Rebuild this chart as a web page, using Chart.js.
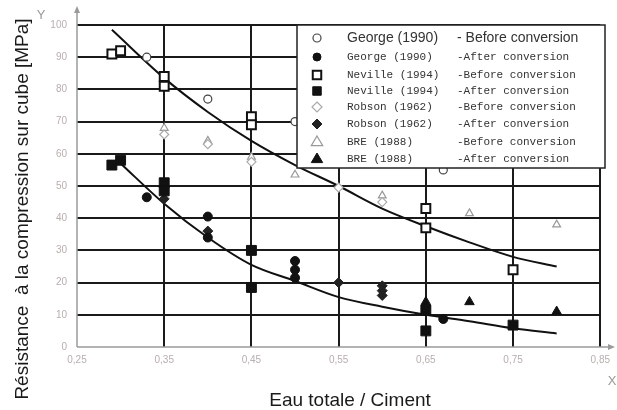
<!DOCTYPE html>
<html>
<head>
<meta charset="utf-8">
<script src="https://cdn.jsdelivr.net/npm/chart.js@4.4.1/dist/chart.umd.min.js"></script>
<style>
html,body{margin:0;padding:0;background:#fff;}
#wrap{position:relative;width:617px;height:410px;}
</style>
</head>
<body>
<div id="wrap"><canvas id="c" width="617" height="410"></canvas></div>
<script>
// ---- data ----
const xTicks = [0.25, 0.35, 0.45, 0.55, 0.65, 0.75, 0.85];
const yTicks = [0, 10, 20, 30, 40, 50, 60, 70, 80, 90, 100];

const georgeBeforeX = [0.33, 0.40, 0.50, 0.67];
const georgeBeforeY = [90, 77, 70, 55];
const georgeAfterX = [0.33, 0.40, 0.40, 0.50, 0.50, 0.50, 0.65, 0.67];
const georgeAfterY = [46.5, 40.5, 34, 26.7, 24, 21.5, 12, 8.7];
const nevilleBeforeX = [0.29, 0.30, 0.35, 0.35, 0.45, 0.45, 0.65, 0.65, 0.75];
const nevilleBeforeY = [91, 92, 84, 81, 71.5, 69, 43, 37, 24];
const nevilleAfterX = [0.29, 0.30, 0.35, 0.35, 0.45, 0.45, 0.65, 0.65, 0.75];
const nevilleAfterY = [56.5, 58, 51, 48.5, 30, 18.5, 11.5, 5, 6.8];
const robsonBeforeX = [0.35, 0.40, 0.45, 0.55, 0.60];
const robsonBeforeY = [66, 63, 57.5, 49.5, 45];
const robsonAfterX = [0.35, 0.40, 0.55, 0.60, 0.60, 0.60];
const robsonAfterY = [46, 36, 20, 19, 17.5, 16];
const breBeforeX = [0.35, 0.40, 0.45, 0.50, 0.60, 0.70, 0.80];
const breBeforeY = [68, 64, 59, 53.5, 47, 41.5, 38];
const breAfterX = [0.65, 0.70, 0.80];
const breAfterY = [14, 14, 11];

const upperCurveX = [0.29, 0.35, 0.40, 0.45, 0.50, 0.55, 0.60, 0.65, 0.70, 0.75, 0.80];
const upperCurveY = [98.5, 83.5, 73, 64, 56.5, 50, 43, 37.5, 32.5, 28, 25];
const lowerCurveX = [0.30, 0.35, 0.40, 0.45, 0.50, 0.55, 0.60, 0.65, 0.70, 0.75, 0.80];
const lowerCurveY = [57, 44.5, 34, 25.5, 20.5, 15.5, 12.5, 10, 8, 5.8, 4.2];

const legendNames = ['George (1990)', 'George (1990)', 'Neville (1994)', 'Neville (1994)',
  'Robson (1962)', 'Robson (1962)', 'BRE (1988)', 'BRE (1988)'];
const legendDescs = ['- Before conversion', '-After conversion', '-Before conversion', '-After conversion',
  '-Before conversion', '-After conversion', '-Before conversion', '-After conversion'];

const xTitle = 'Eau totale / Ciment';
const yTitle = 'Résistance  à la compression sur cube [MPa]';

// ---- build ----
const pts = (xs, ys) => xs.map((x, i) => ({x: x, y: ys[i]}));

const markerStyles = [
  {pointStyle: 'circle', radius: 4, bg: '#fff', border: '#444', bw: 1.2},
  {pointStyle: 'circle', radius: 4.5, bg: '#111', border: '#111', bw: 1},
  {pointStyle: 'rect', radius: 6.3, bg: '#fff', border: '#111', bw: 2},
  {pointStyle: 'rect', radius: 7, bg: '#111', border: '#111', bw: 1},
  {pointStyle: 'rectRot', radius: 4.5, bg: '#fff', border: '#aaa', bw: 1.2},
  {pointStyle: 'rectRot', radius: 5, bg: '#222', border: '#222', bw: 1},
  {pointStyle: 'triangle', radius: 4.5, bg: '#fff', border: '#999', bw: 1.2},
  {pointStyle: 'triangle', radius: 5.5, bg: '#111', border: '#111', bw: 1}
];
const seriesData = [
  pts(georgeBeforeX, georgeBeforeY), pts(georgeAfterX, georgeAfterY),
  pts(nevilleBeforeX, nevilleBeforeY), pts(nevilleAfterX, nevilleAfterY),
  pts(robsonBeforeX, robsonBeforeY), pts(robsonAfterX, robsonAfterY),
  pts(breBeforeX, breBeforeY), pts(breAfterX, breAfterY)
];

const datasets = seriesData.map((d, i) => ({
  type: 'scatter', data: d, order: 1,
  pointStyle: markerStyles[i].pointStyle,
  pointRadius: markerStyles[i].radius,
  pointHoverRadius: markerStyles[i].radius,
  backgroundColor: markerStyles[i].bg,
  borderColor: markerStyles[i].border,
  pointBorderWidth: markerStyles[i].bw,
  showLine: false
}));
datasets.push({type: 'line', data: pts(upperCurveX, upperCurveY), borderColor: '#111', borderWidth: 2,
  pointRadius: 0, fill: false, cubicInterpolationMode: 'monotone', order: 2});
datasets.push({type: 'line', data: pts(lowerCurveX, lowerCurveY), borderColor: '#111', borderWidth: 2,
  pointRadius: 0, fill: false, cubicInterpolationMode: 'monotone', order: 2});

function drawMarker(ctx, style, x, y) {
  ctx.save();
  ctx.fillStyle = style.bg; ctx.strokeStyle = style.border; ctx.lineWidth = style.bw;
  ctx.beginPath();
  const r = style.radius;
  if (style.pointStyle === 'circle') {
    ctx.arc(x, y, r, 0, Math.PI * 2);
  } else if (style.pointStyle === 'rect') {
    const s = r * Math.SQRT1_2;
    ctx.rect(x - s, y - s, 2 * s, 2 * s);
  } else if (style.pointStyle === 'rectRot') {
    ctx.moveTo(x, y - r); ctx.lineTo(x + r, y); ctx.lineTo(x, y + r); ctx.lineTo(x - r, y); ctx.closePath();
  } else {
    const h = r * 1.5, half = r * Math.sqrt(3) / 2;
    ctx.moveTo(x, y - r); ctx.lineTo(x + half * 1.1, y + r * 0.6); ctx.lineTo(x - half * 1.1, y + r * 0.6); ctx.closePath();
  }
  ctx.fill(); ctx.stroke();
  ctx.restore();
}

const framePlugin = {
  id: 'frame',
  afterDatasetsDraw(chart) {
    const ctx = chart.ctx;
    const a = chart.chartArea;
    // axes (grey) with arrows
    ctx.save();
    ctx.strokeStyle = '#9a9a9a'; ctx.fillStyle = '#9a9a9a'; ctx.lineWidth = 1.5;
    ctx.beginPath(); ctx.moveTo(a.left, a.bottom); ctx.lineTo(a.left, 10); ctx.stroke();
    ctx.beginPath(); ctx.moveTo(a.left - 3, 13); ctx.lineTo(a.left, 6); ctx.lineTo(a.left + 3, 13); ctx.closePath(); ctx.fill();
    ctx.beginPath(); ctx.moveTo(a.left, a.bottom); ctx.lineTo(611, a.bottom); ctx.stroke();
    ctx.beginPath(); ctx.moveTo(608, a.bottom - 3); ctx.lineTo(615, a.bottom); ctx.lineTo(608, a.bottom + 3); ctx.closePath(); ctx.fill();
    ctx.font = '13px "Liberation Sans", Arial, sans-serif';
    ctx.textAlign = 'center'; ctx.textBaseline = 'middle';
    ctx.fillText('Y', 41, 15);
    ctx.fillText('X', 612, 381);
    ctx.restore();

    // legend box
    const lx = 297, ly = 25, lw = 308, lh = 143;
    ctx.save();
    ctx.fillStyle = '#fff';
    ctx.fillRect(lx, ly, lw, lh);
    ctx.strokeStyle = '#222'; ctx.lineWidth = 1.5;
    ctx.strokeRect(lx, ly, lw, lh);
    const rows = [38, 57, 75, 91, 107, 124, 142, 159];
    rows.forEach((ry, i) => {
      const st = Object.assign({}, markerStyles[i]);
      if (st.pointStyle === 'rect') st.radius = 6;
      if (st.pointStyle === 'triangle') st.radius = 6;
      if (st.pointStyle === 'rectRot') st.radius = 5;
      if (st.pointStyle === 'circle') st.radius = 4;
      drawMarker(ctx, st, 317, ry);
      ctx.fillStyle = '#333';
      ctx.textAlign = 'left'; ctx.textBaseline = 'middle';
      if (i === 0) {
        ctx.font = '14px "Liberation Sans", Arial, sans-serif';
      } else {
        ctx.font = '11px "Liberation Mono", "Courier New", monospace';
      }
      ctx.fillText(legendNames[i], 347, ry);
      ctx.fillText(legendDescs[i], 457, ry);
    });
    ctx.restore();

    // titles
    ctx.save();
    ctx.fillStyle = '#1a1a1a';
    ctx.font = '19px "Liberation Sans", Arial, sans-serif';
    ctx.textAlign = 'center'; ctx.textBaseline = 'alphabetic';
    ctx.fillText(xTitle, 350, 406);
    ctx.translate(28, 209);
    ctx.rotate(-Math.PI / 2);
    ctx.fillText(yTitle, 0, 0);
    ctx.restore();
  }
};

const gridColor = (zeroVal) => (c) => (c.tick && Math.abs(c.tick.value - zeroVal) < 1e-9) ? 'rgba(0,0,0,0)' : '#1a1a1a';

new Chart(document.getElementById('c'), {
  type: 'scatter',
  data: {datasets: datasets},
  options: {
    responsive: false,
    animation: false,
    events: [],
    layout: {padding: {top: 25, right: 14, left: 0, bottom: 0}},
    plugins: {legend: {display: false}, tooltip: {enabled: false}},
    scales: {
      x: {
        type: 'linear', min: 0.25, max: 0.85,
        afterBuildTicks(s) { s.ticks = xTicks.map(v => ({value: v})); },
        afterFit(s) { s.height = 63; },
        grid: {color: gridColor(0.25), lineWidth: 2, drawTicks: false},
        border: {display: false},
        ticks: {
          padding: 7, color: '#b9aeae', font: {size: 10, family: '"Liberation Sans", Arial, sans-serif'},
          callback: (v) => Number(v).toFixed(2).replace('.', ','), maxRotation: 0, autoSkip: false
        }
      },
      y: {
        type: 'linear', min: 0, max: 100,
        afterBuildTicks(s) { s.ticks = yTicks.map(v => ({value: v})); },
        afterFit(s) { s.width = 77; },
        grid: {color: gridColor(0), lineWidth: 2, drawTicks: false},
        border: {display: false},
        ticks: {
          padding: 10, color: '#b9aeae', font: {size: 10, family: '"Liberation Sans", Arial, sans-serif'},
          autoSkip: false
        }
      }
    }
  },
  plugins: [framePlugin]
});
</script>
</body>
</html>
